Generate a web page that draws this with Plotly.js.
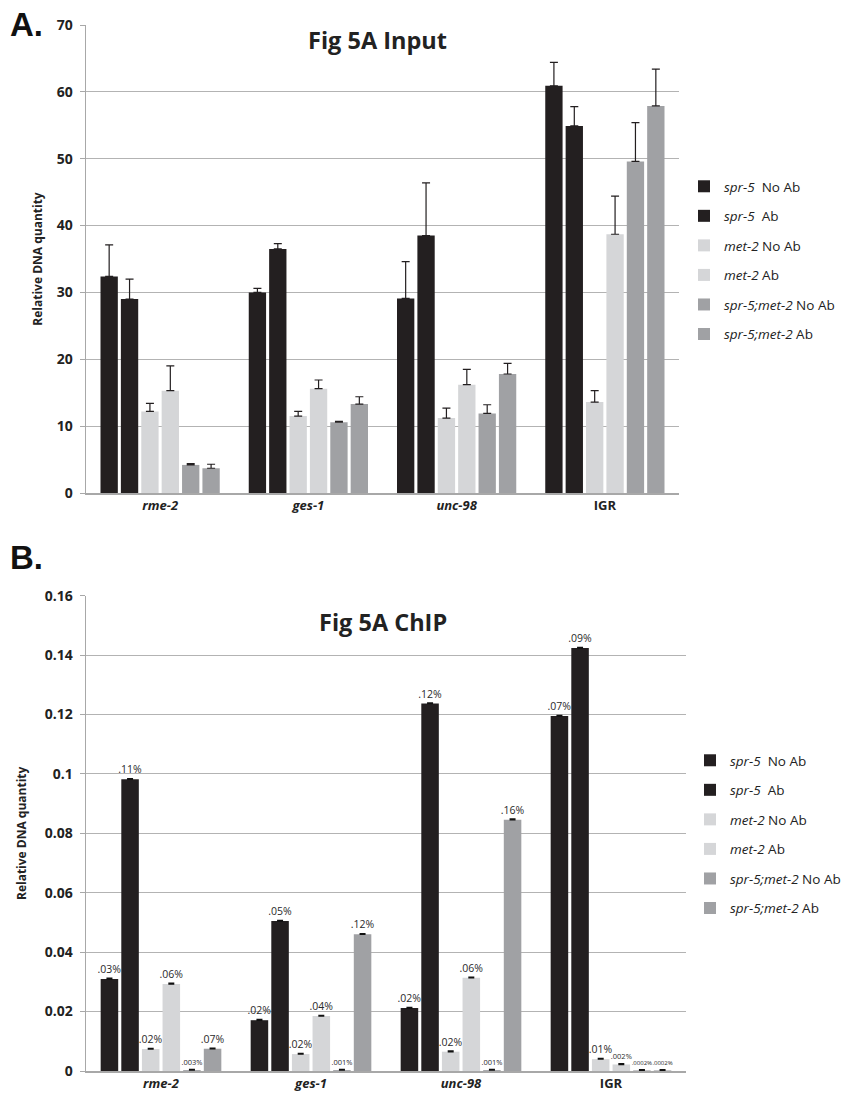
<!DOCTYPE html>
<html>
<head>
<meta charset="utf-8">
<script src="https://cdn.plot.ly/plotly-3.0.1.min.js"></script>
<style>html,body{margin:0;padding:0;background:#fff;} #chart{width:846px;height:1098px;}</style>
</head>
<body>
<div id="chart"></div>
<script>
// ---------- Data ----------
const categories = ['rme-2', 'ges-1', 'unc-98', 'IGR'];
const categoryLabels = ['<b><i>rme-2</i></b>', '<b><i>ges-1</i></b>', '<b><i>unc-98</i></b>', '<b>IGR</b>'];
const seriesNames = [
  '<i>spr-5</i>\u00a0 No Ab',
  '<i>spr-5</i>\u00a0 Ab',
  '<i>met-2</i> No Ab',
  '<i>met-2</i> Ab',
  '<i>spr-5;met-2</i> No Ab',
  '<i>spr-5;met-2</i> Ab'
];
const seriesColors = ['#231f20', '#231f20', '#d5d6d8', '#d5d6d8', '#a0a1a4', '#a0a1a4'];

// Panel A: Input
const inputValues = [
  [32.4, 30.0, 29.1, 60.9],
  [29.0, 36.5, 38.5, 54.9],
  [12.2, 11.5, 11.2, 13.6],
  [15.3, 15.6, 16.2, 38.7],
  [4.2, 10.6, 11.9, 49.6],
  [3.7, 13.3, 17.8, 57.9]
];
const inputErrors = [
  [4.7, 0.6, 5.5, 3.5],
  [3.0, 0.8, 7.9, 2.9],
  [1.2, 0.7, 1.5, 1.7],
  [3.7, 1.3, 2.3, 5.7],
  [0.2, 0.1, 1.3, 5.8],
  [0.6, 1.1, 1.6, 5.5]
];

// Panel B: ChIP
const chipValues = [
  [0.0310, 0.0171, 0.0212, 0.1195],
  [0.0982, 0.0505, 0.1237, 0.1424],
  [0.0074, 0.0057, 0.0065, 0.0040],
  [0.0293, 0.0185, 0.0314, 0.0022],
  [0.0003, 0.0003, 0.0003, 0.0002],
  [0.0075, 0.0460, 0.0846, 0.0002]
];
const chipErrors = [
  [0.0002, 0.0002, 0.0002, 0.0002],
  [0.0002, 0.0002, 0.0002, 0.0002],
  [0.0002, 0.0002, 0.0002, 0.0002],
  [0.0002, 0.0002, 0.0002, 0.0002],
  [0.0002, 0.0002, 0.0002, 0.0002],
  [0.0002, 0.0002, 0.0002, 0.0002]
];
const chipLabels = [
  ['.03%', '.02%', '.02%', '.07%'],
  ['.11%', '.05%', '.12%', '.09%'],
  ['.02%', '.02%', '.02%', '.01%'],
  ['.06%', '.04%', '.06%', '.002%'],
  ['.003%', '.001%', '.001%', '.0002%'],
  ['.07%', '.12%', '.16%', '.0002%']
];

const inputTicks = [0, 10, 20, 30, 40, 50, 60, 70];
const chipTicks = [0, 0.02, 0.04, 0.06, 0.08, 0.1, 0.12, 0.14, 0.16];
const chipTickText = ['0', '0.02', '0.04', '0.06', '0.08', '0.1', '0.12', '0.14', '0.16'];

// ---------- Traces ----------
const FONT = 'Open Sans, Noto Sans, sans-serif';
const traces = [];
seriesNames.forEach((name, i) => {
  traces.push({
    type: 'bar', x: categories, y: inputValues[i], name: name,
    xaxis: 'x', yaxis: 'y', legend: 'legend', legendgroup: 'a' + i,
    marker: {color: seriesColors[i]},
    error_y: {type: 'data', symmetric: false, array: inputErrors[i], arrayminus: inputErrors[i].map(() => 0),
              color: '#231f20', thickness: 1.2, width: 4},
    hoverinfo: 'y'
  });
});
seriesNames.forEach((name, i) => {
  const sizes = chipLabels[i].map(t => t.length > 5 ? 6 : (t.length > 4 ? 7.5 : 10.5));
  traces.push({
    type: 'bar', x: categories, y: chipValues[i], name: name,
    xaxis: 'x2', yaxis: 'y2', legend: 'legend2', legendgroup: 'b' + i,
    marker: {color: seriesColors[i]},
    text: chipLabels[i], textposition: 'outside', cliponaxis: false, constraintext: 'none',
    textfont: {family: FONT, size: sizes, color: '#2a2a2a'},
    error_y: {type: 'data', symmetric: false, array: chipErrors[i], arrayminus: chipErrors[i].map(() => 0),
              color: '#111', thickness: 1.5, width: 3},
    hoverinfo: 'y'
  });
});

const H = 1098, W = 846;
const px = v => v / W;
const py = v => 1 - v / H;

const gridColor = '#b3b3b3';
const xCommon = {
  type: 'category', tickmode: 'array', tickvals: categories, ticktext: categoryLabels,
  showline: true, linecolor: '#a8a8a8', linewidth: 1.5, ticks: '', showgrid: false,
  tickfont: {family: FONT, size: 13, color: '#222'}, fixedrange: true
};
const yCommon = {
  showline: true, linecolor: '#a8a8a8', linewidth: 1.5, ticks: 'outside', ticklen: 5, tickcolor: '#a8a8a8',
  showgrid: true, gridcolor: gridColor, gridwidth: 1, zeroline: false, ticklabelstandoff: 4,
  tickfont: {family: FONT, size: 14, color: '#222', weight: 'bold'}, fixedrange: true
};

const legendCommon = {
  xanchor: 'left', yanchor: 'top', bgcolor: 'rgba(0,0,0,0)',
  font: {family: FONT, size: 13.5, color: '#222'}, tracegroupgap: 9, traceorder: 'grouped'
};

const layout = {
  width: W, height: H,
  margin: {l: 0, r: 0, t: 0, b: 0},
  paper_bgcolor: '#fff', plot_bgcolor: '#fff',
  barmode: 'group', bargap: 0.175, bargroupgap: 0.15,
  font: {family: FONT},
  xaxis: Object.assign({}, xCommon, {domain: [px(86), px(679)], anchor: 'y'}),
  yaxis: Object.assign({}, yCommon, {domain: [py(493), py(25)], anchor: 'x', range: [0, 70],
    tickmode: 'array', tickvals: inputTicks,
    title: {text: '<b>Relative DNA quantity</b>', font: {family: FONT, size: 12, color: '#222'}, standoff: 11}}),
  xaxis2: Object.assign({}, xCommon, {domain: [px(86), px(686)], anchor: 'y2'}),
  yaxis2: Object.assign({}, yCommon, {domain: [py(1071), py(595.7)], anchor: 'x2', range: [0, 0.16],
    tickmode: 'array', tickvals: chipTicks, ticktext: chipTickText,
    title: {text: '<b>Relative DNA quantity</b>', font: {family: FONT, size: 12, color: '#222'}, standoff: 15}}),
  legend: Object.assign({}, legendCommon, {x: px(684), y: py(171)}),
  legend2: Object.assign({}, legendCommon, {x: px(690), y: py(745)}),
  showlegend: true,
  annotations: [
    {text: '<b>Fig 5A Input</b>', xref: 'paper', yref: 'paper', x: px(377), y: py(40), xanchor: 'center', yanchor: 'middle',
     showarrow: false, font: {family: FONT, size: 23.5, color: '#222'}},
    {text: '<b>Fig 5A ChIP</b>', xref: 'paper', yref: 'paper', x: px(383), y: py(622), xanchor: 'center', yanchor: 'middle',
     showarrow: false, font: {family: FONT, size: 23.5, color: '#222'}},
    {text: '<b>A.</b>', xref: 'paper', yref: 'paper', x: px(8), y: py(25), xanchor: 'left', yanchor: 'middle',
     showarrow: false, font: {family: 'Liberation Sans, Arial, sans-serif', size: 33, color: '#111'}},
    {text: '<b>B.</b>', xref: 'paper', yref: 'paper', x: px(8), y: py(557), xanchor: 'left', yanchor: 'middle',
     showarrow: false, font: {family: 'Liberation Sans, Arial, sans-serif', size: 33, color: '#111'}}
  ]
};

Plotly.newPlot('chart', traces, layout, {displayModeBar: false, staticPlot: true});
</script>
</body>
</html>
